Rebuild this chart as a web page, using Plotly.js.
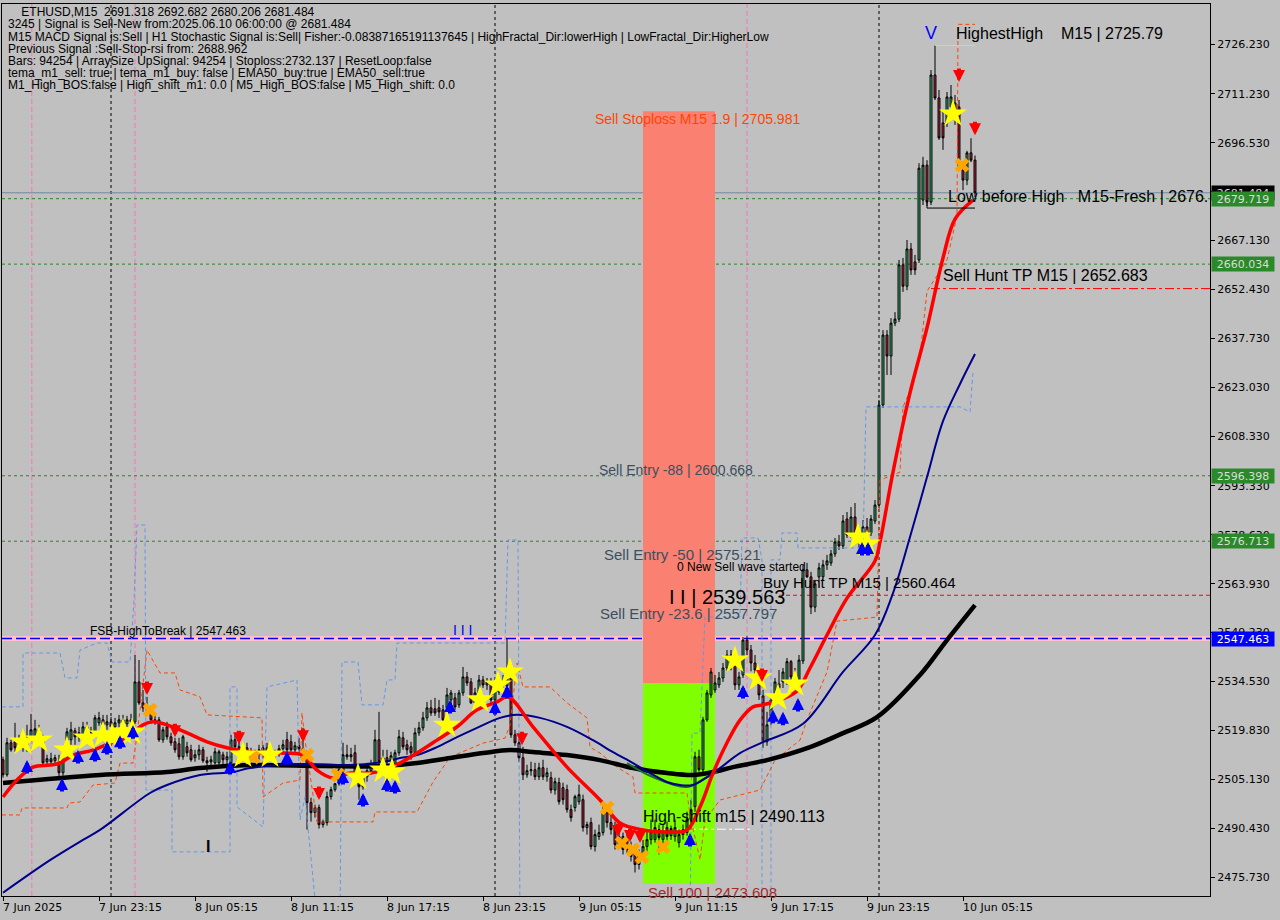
<!DOCTYPE html>
<html><head><meta charset="utf-8">
<script src="https://cdn.plot.ly/plotly-3.0.1.min.js"></script>
<style>html,body{margin:0;padding:0;background:#C0C0C0;}#chart{width:1280px;height:920px;}</style>
</head><body><div id="chart"></div>
<script>
// ---------- candles (M15, bar 0 = 7 Jun 17:15) ----------
const openP = [2511.0,2506.5,2516.1,2516.4,2515.5,2517.0,2514.6,2517.0,2517.9,2520.0,
2517.0,2510.4,2511.3,2510.7,2510.4,2507.1,2513.1,2517.0,2519.7,2517.9,
2517.0,2520.9,2517.6,2519.1,2522.1,2523.0,2521.5,2522.4,2520.9,2522.1,
2523.0,2521.8,2523.0,2522.4,2534.4,2528.1,2526.6,2526.0,2523.0,2523.0,
2517.0,2520.9,2517.9,2516.4,2515.8,2511.9,2514.9,2514.0,2511.6,2512.5,
2514.0,2510.7,2510.4,2510.1,2510.1,2512.5,2511.0,2510.1,2517.0,2514.9,
2513.4,2514.6,2513.4,2511.6,2512.8,2512.5,2514.6,2513.1,2512.2,2513.4,
2514.3,2517.0,2516.4,2514.0,2515.2,2514.3,2511.6,2498.1,2495.1,2496.6,
2491.5,2492.1,2499.9,2502.0,2503.8,2507.4,2512.5,2511.9,2513.1,2507.1,
2502.9,2505.9,2507.7,2509.5,2517.0,2510.4,2511.6,2510.4,2508.9,2513.1,
2517.6,2515.5,2514.9,2513.1,2519.1,2520.6,2523.6,2526.6,2526.3,2526.6,
2526.0,2526.6,2529.0,2529.6,2527.5,2531.1,2535.9,2534.4,2528.1,2531.1,
2535.0,2533.5,2534.1,2529.0,2531.4,2534.4,2533.2,2535.6,2518.5,2516.1,
2511.6,2506.5,2507.7,2508.0,2505.9,2508.6,2505.9,2505.6,2501.9,2504.1,
2502.6,2502.0,2496.0,2496.6,2498.4,2499.0,2490.6,2492.1,2484.9,2487.9,
2489.1,2495.1,2492.1,2490.9,2485.5,2487.9,2487.6,2484.9,2484.0,2479.5,
2481.9,2484.9,2487.0,2487.0,2490.0,2487.0,2490.6,2488.2,2487.9,2486.1,
2488.5,2489.1,2493.0,2496.9,2511.9,2508.0,2523.0,2530.5,2532.0,2533.5,
2535.6,2538.6,2542.5,2540.1,2533.5,2536.5,2547.0,2544.0,2540.1,2537.1,
2530.2,2516.4,2524.2,2529.0,2533.8,2534.4,2534.4,2540.5,2535.9,2534.4,
2540.7,2568.1,2566.0,2556.9,2566.0,2566.0,2569.6,2570.2,2572.9,2576.5,
2575.3,2583.4,2578.6,2584.0,2578.6,2576.5,2581.0,2579.2,2582.8,2587.6,
2617.7,2638.7,2632.4,2642.3,2643.5,2659.8,2653.4,2664.6,2660.7,2661.3,
2679.3,2689.8,2678.7,2716.9,2710.0,2702.5,2702.5,2707.3,2708.5,2707.3,
2688.3,2685.3,2693.5,2691.318];
const highP = [2511.9,2517.6,2517.0,2522.1,2518.5,2520.0,2521.5,2524.8,2523.0,2521.5,
2518.5,2512.5,2513.1,2512.5,2512.5,2514.0,2520.6,2522.4,2520.6,2520.9,
2522.4,2522.4,2520.9,2524.5,2525.4,2524.5,2524.5,2523.9,2523.6,2524.5,
2524.5,2524.2,2524.8,2542.5,2541.0,2532.0,2529.9,2527.2,2524.2,2523.9,
2520.9,2522.4,2519.1,2517.6,2517.6,2518.5,2516.4,2515.5,2514.0,2515.5,
2514.9,2511.9,2512.2,2514.6,2514.0,2513.4,2513.4,2518.5,2518.8,2517.0,
2516.1,2516.1,2514.6,2514.0,2515.5,2515.5,2516.1,2514.6,2514.0,2515.5,
2517.0,2519.4,2518.5,2516.4,2517.6,2520.6,2513.4,2499.6,2497.5,2497.5,
2493.0,2501.4,2502.9,2504.0,2509.5,2516.1,2515.5,2514.6,2515.5,2508.0,
2506.8,2508.6,2511.0,2520.0,2525.4,2514.0,2514.0,2513.4,2514.0,2520.0,
2519.4,2517.0,2516.4,2520.6,2522.4,2525.4,2528.4,2529.0,2529.6,2529.0,
2527.5,2532.6,2532.0,2531.1,2532.0,2538.9,2537.4,2535.6,2532.6,2536.5,
2536.2,2535.6,2535.6,2533.5,2535.6,2536.5,2547.6,2536.8,2520.0,2517.3,
2514.9,2509.5,2510.4,2510.1,2510.1,2511.0,2508.6,2507.4,2505.6,2505.6,
2504.1,2503.5,2497.5,2500.5,2503.5,2500.5,2492.4,2493.6,2490.0,2491.5,
2497.5,2496.6,2494.5,2492.4,2489.4,2489.1,2489.4,2486.4,2485.5,2484.0,
2486.9,2490.0,2493.0,2493.0,2491.5,2491.5,2492.4,2491.2,2493.0,2490.0,
2491.5,2495.4,2499.0,2513.4,2514.0,2523.9,2532.0,2538.6,2536.5,2537.4,
2540.1,2544.0,2544.0,2541.6,2537.4,2547.9,2548.2,2545.5,2542.5,2538.6,
2532.0,2525.4,2530.5,2535.6,2538.0,2538.6,2541.6,2541.0,2538.6,2542.5,
2569.6,2570.2,2567.5,2565.1,2570.2,2571.1,2572.6,2574.1,2577.7,2578.6,
2584.6,2585.5,2587.0,2588.2,2580.7,2583.1,2583.7,2584.6,2589.1,2619.2,
2640.2,2640.2,2643.8,2645.6,2661.3,2661.9,2667.3,2666.4,2662.8,2690.4,
2692.3,2691.3,2718.4,2725.79,2712.4,2706.4,2711.8,2713.9,2710.9,2709.4,
2689.8,2694.1,2697.9,2692.682];
const lowP = [2505.6,2505.9,2513.4,2513.4,2514.0,2513.4,2513.4,2516.4,2517.0,2515.5,
2509.5,2509.5,2509.5,2509.2,2505.9,2506.2,2512.5,2515.5,2515.5,2516.4,
2516.4,2516.4,2516.4,2518.2,2521.2,2520.0,2520.0,2519.4,2519.7,2520.6,
2520.6,2520.9,2521.2,2521.8,2527.5,2525.4,2525.1,2521.8,2521.5,2516.4,
2516.1,2517.0,2515.2,2513.1,2511.0,2511.0,2511.9,2510.4,2510.4,2511.0,
2510.1,2507.4,2509.2,2509.5,2509.5,2509.2,2508.0,2509.5,2514.0,2511.9,
2511.9,2511.9,2510.1,2510.4,2511.0,2511.6,2511.9,2511.0,2511.0,2511.9,
2512.5,2513.1,2513.4,2512.5,2513.1,2511.9,2490.0,2492.4,2493.6,2490.3,
2490.6,2491.2,2499.0,2501.4,2503.2,2506.5,2511.0,2510.4,2506.5,2499.0,
2502.0,2504.4,2506.5,2508.6,2509.5,2507.9,2508.9,2508.6,2507.4,2512.2,
2514.0,2512.5,2511.0,2512.2,2518.2,2519.7,2522.7,2524.2,2524.2,2523.6,
2522.4,2525.4,2528.1,2526.0,2526.6,2530.2,2533.2,2527.8,2527.2,2530.2,
2532.6,2532.0,2528.1,2527.5,2530.5,2532.0,2532.0,2517.6,2515.2,2510.4,
2504.9,2505.6,2506.2,2504.9,2504.9,2504.9,2504.4,2500.9,2500.5,2497.5,
2497.5,2495.1,2492.4,2495.4,2497.5,2489.4,2488.5,2484.0,2483.4,2486.9,
2488.2,2490.6,2488.5,2484.0,2484.6,2482.5,2482.8,2480.4,2477.1,2478.0,
2481.0,2483.4,2485.5,2486.1,2482.5,2485.5,2486.4,2486.9,2486.4,2484.6,
2487.0,2488.2,2490.0,2495.4,2507.4,2507.1,2522.4,2529.6,2531.1,2532.6,
2534.4,2537.7,2537.9,2532.0,2532.0,2535.6,2542.5,2537.6,2536.5,2529.0,
2514.6,2515.2,2521.5,2527.5,2531.4,2532.6,2533.5,2535.0,2532.0,2532.6,
2539.8,2565.7,2554.8,2555.4,2564.5,2565.1,2568.1,2569.3,2572.0,2574.1,
2574.4,2577.7,2577.7,2577.7,2574.7,2575.3,2575.6,2578.3,2581.9,2586.7,
2616.8,2626.7,2626.7,2641.4,2642.6,2651.7,2652.2,2656.8,2656.8,2660.4,
2677.8,2677.5,2677.8,2709.4,2697.4,2694.4,2701.3,2706.4,2701.9,2688.3,
2682.3,2683.8,2690.7,2680.206];
const closeP = [2506.5,2516.1,2514.0,2514.6,2517.0,2515.5,2517.6,2520.0,2520.3,2518.5,
2510.1,2511.3,2510.4,2511.6,2507.1,2513.1,2519.4,2520.0,2517.9,2519.1,
2520.9,2517.6,2519.4,2523.6,2523.6,2521.5,2522.4,2520.9,2522.1,2523.0,
2521.8,2523.0,2522.4,2534.4,2528.1,2526.6,2526.0,2523.0,2522.4,2517.0,
2520.0,2517.9,2516.1,2514.0,2511.9,2517.9,2513.1,2511.0,2512.5,2514.0,
2510.7,2510.1,2511.0,2513.4,2513.4,2511.0,2511.9,2517.0,2514.9,2513.4,
2514.6,2513.1,2511.6,2512.8,2514.0,2514.6,2513.1,2512.2,2513.4,2514.3,
2515.5,2514.0,2514.0,2515.2,2514.3,2513.4,2498.1,2495.1,2496.6,2491.5,
2492.4,2499.9,2502.0,2503.8,2508.0,2512.5,2511.9,2512.5,2507.1,2502.9,
2505.9,2507.7,2509.5,2517.0,2510.4,2511.6,2510.4,2512.2,2513.1,2517.9,
2514.9,2514.0,2513.1,2519.1,2520.6,2523.6,2526.6,2525.1,2525.1,2525.4,
2523.0,2530.5,2531.1,2526.9,2531.1,2535.9,2534.1,2528.1,2531.1,2535.0,
2533.5,2534.4,2529.0,2532.0,2534.4,2533.2,2535.6,2518.5,2516.1,2511.6,
2506.5,2507.7,2508.0,2505.9,2508.6,2505.9,2507.1,2501.9,2504.4,2498.4,
2499.0,2496.0,2493.6,2499.9,2500.5,2490.6,2491.5,2484.9,2488.5,2489.1,
2495.1,2492.1,2490.0,2485.5,2487.9,2484.0,2484.0,2481.9,2479.5,2483.1,
2484.9,2487.0,2489.4,2490.6,2487.6,2489.4,2487.9,2490.3,2490.6,2488.5,
2490.0,2493.0,2496.0,2511.9,2508.0,2523.0,2531.1,2537.4,2534.1,2535.6,
2538.6,2542.5,2538.9,2533.5,2535.9,2547.0,2544.0,2540.1,2538.0,2530.5,
2516.4,2521.5,2529.0,2534.4,2532.6,2537.4,2540.5,2535.9,2534.4,2541.0,
2568.1,2566.0,2556.9,2563.9,2568.7,2569.6,2570.8,2572.9,2576.5,2575.3,
2582.8,2578.6,2584.0,2578.6,2576.5,2581.0,2579.2,2583.4,2587.6,2617.7,
2638.7,2632.4,2642.3,2643.5,2659.8,2653.4,2664.6,2658.3,2658.3,2688.9,
2689.8,2678.7,2716.9,2710.0,2698.0,2698.0,2710.3,2710.3,2704.9,2688.9,
2685.3,2693.5,2691.3,2681.484];

// ---------- moving averages (bar index, price) ----------
const redX = [0,3.5,7.5,11.75,14.25,17.5,22.5,26.75,31,35,37.5,41,46,51,56,61.75,70,75,78.5,82.5,86.75,91.75,95,99.25,103.5,108.5,113.5,118.5,123.5,126.25,132.5,141,149.25,154.25,160,166,171,174.25,177.5,181,184.25,187.5,190,194.25,198.5,201.75,206,211,218,219.25,222.5,226.75,231,235,238,242.5];
const redY = [2499.8,2504.9,2508.8,2509.4,2510.0,2512.4,2513.9,2516.0,2517.8,2521.5,2522.4,2521.5,2519.1,2516.4,2514.6,2513.3,2513.0,2512.4,2507.9,2505.5,2507.0,2507.0,2507.9,2510.0,2513.0,2516.9,2520.9,2526.0,2528.4,2529.9,2520.9,2508.8,2498.9,2492.0,2489.9,2489.3,2489.9,2496.8,2507.0,2516.1,2522.9,2526.9,2527.5,2529.0,2531.7,2538.6,2548.5,2559.6,2570.8,2576.5,2597.5,2621.3,2640.9,2661.9,2673.6,2679.3];
const navyX = [0,11.75,20,24.25,36.75,41,49.25,57.5,61.75,74.25,86.75,95,99.25,103.5,108.5,113.5,118.5,124.25,128.5,134.25,141,147.5,152.5,157.5,161.75,166,169.25,172.5,176,179.25,184.25,190,200,210,218,222.5,226.75,231,235,239.25,243];
const navyY = [2471.0,2480.8,2486.9,2489.9,2501.0,2503.4,2506.4,2507.3,2508.5,2509.7,2509.4,2510.3,2511.5,2512.4,2514.8,2517.8,2520.6,2523.6,2524.5,2523.6,2520.9,2516.9,2513.3,2510.0,2507.0,2504.3,2503.4,2503.4,2505.8,2508.5,2513.0,2516.3,2521.8,2537.4,2548.5,2561.1,2578.0,2596.0,2612.8,2624.0,2633.0];
const blackX = [0,24.25,41,49.25,61.75,80,95,103.5,111.75,120,126.75,132.5,141,149.25,157.5,166,172.5,177.5,182.5,191,201.75,210,218.5,229.25,236,243];
const blackY = [2504.0,2506.4,2507.3,2508.5,2509.4,2509.1,2509.1,2510.0,2511.5,2513.0,2513.9,2513.3,2512.4,2510.9,2508.5,2507.0,2506.4,2507.3,2508.8,2510.9,2514.8,2519.0,2523.8,2536.5,2547.0,2557.5];
const greenX = [156,162.5,171,176,178.5];
const greenY = [2510.0,2505.8,2502.8,2505.8,2507.3];

// ---------- dashed channel lines ----------
const blueBandX = [-0.25,5,5,14.25,15.5,18.5,19.25,23.5,26,27.25,31.75,32.75,33.5,35.5,35.75,42.25,42.25,56.75,56.75,58.5,58.5,65,66,73.5,74.25,75.5,78.75,84.25,84.75,88.75,89.75,95,96,98,98.5,125.5,126.25,128.75,129.25,171.75,172.25,174.25,175.5,184.25,184.75,188.75,189.75,189.75,192,192,194.25,194.75,198.5,198.75,215,215.75,239.25,241.75,242.5,243];
const blueBandY = [2526.9,2526.9,2543.1,2543.1,2535.6,2535.6,2544.0,2546.1,2546.1,2540.4,2540.4,2559.0,2581.6,2581.6,2501.9,2501.9,2483.3,2483.3,2532.9,2532.9,2496.8,2490.8,2532.9,2535.0,2492.9,2499.8,2460,2460,2540.4,2540.4,2527.5,2527.5,2535.0,2535.0,2546.1,2546.1,2577.1,2577.1,2460,2460,2519.0,2519.0,2553.9,2553.9,2577.7,2577.7,2571.1,2460,2460,2571.1,2571.1,2579.2,2579.2,2574.7,2574.7,2617.1,2617.1,2615.6,2627.6,2627.6];
const orangeBandX = [-0.25,4.25,4.75,16,16.5,19.25,22.5,28,29.25,32.5,33.5,36,39.25,43,44.25,49.25,51,64.75,65,70,74.25,74.75,75.5,78.5,92.5,93,103.5,107.5,111.75,120,125.5,126.75,128.5,130,136.75,141,146,146.75,149.25,153.5,157.5,158,171,171.75,174.25,175.5,179.25,189.25,193,199.25,201,206,208.5,218.5,219.25,224.25,225,227.5,229.25,231,236,238.5,238.75,243];
const orangeBandY = [2494.4,2494.4,2496.5,2496.5,2498.0,2498.3,2503.4,2504.0,2510.0,2510.0,2518.4,2544.0,2537.1,2537.1,2532.0,2529.9,2524.5,2523.6,2499.8,2504.0,2504.9,2525.1,2516.9,2492.3,2492.3,2495.3,2495.3,2504.3,2511.8,2516.0,2517.5,2521.4,2540.1,2532.9,2532.9,2528.1,2523.6,2514.8,2513.0,2508.8,2505.8,2501.0,2501.0,2494.4,2480.9,2492.9,2498.9,2501.9,2510.9,2516.9,2523.0,2537.4,2552.7,2553.9,2595.1,2597.5,2617.1,2624.0,2632.4,2651.9,2661.3,2674.5,2732.137,2732.137];

// ---------- signal markers ----------
const starX = [5,9,16,21,25,27.25,30,32.25,60,66.75,88.75,95,97.25,111,119.25,123.75,126.75,183,188.75,193.75,198,213.75,216,237.5];
const starY = [2516.3,2516.9,2513.9,2517.5,2518.4,2517.8,2519.3,2519.3,2512.4,2512.4,2505.8,2507.9,2507.3,2521.4,2529.0,2533.5,2537.4,2541.0,2535.6,2529.6,2533.8,2578.0,2575.9,2705.2];
const upX = [6,14.75,18.75,23,26,29.25,32.5,56.75,71,85,90,96,98,111.75,123,126,171.75,185,192.5,195,198.75,214.75,216.25];
const upY = [2508.8,2503.4,2511.8,2512.4,2514.5,2516.3,2519.3,2508.5,2511.5,2505.5,2498.9,2503.4,2502.8,2526.9,2526.6,2531.4,2486.9,2531.4,2523.9,2523.3,2527.5,2574.4,2574.4];
const downX = [36,43,59,75,79,129.75,153.75,156.75,159.25,189.75,239,243];
const downY = [2532.6,2519.9,2517.8,2518.4,2501.0,2517.5,2489.9,2488.4,2488.1,2536.5,2716.9,2700.9];
const crossX = [36.75,60,62.5,76,83.75,151,154.75,157.5,159.75,165,239.75];
const crossY = [2525.9,2511.8,2511.8,2512.4,2506.4,2496.5,2485.9,2483.9,2481.8,2484.8,2689.8];

// ---------- levels ----------
const currentPrice = 2681.484;
const greenLevels = [2679.719, 2660.034, 2596.398, 2576.713];
const fsbLevel = 2547.463;
const sellHuntTP = 2652.683, buyHuntTP = 2560.464, highShift = 2490.113;
const highestHigh = 2725.79, lowBeforeHigh = 2676.9;
const stopLoss = 2705.981, sell100 = 2473.608, zoneSplit = 2534.08;
const dayBreaks = [27, 123, 219];
const pinkMarks = [7.2, 33, 186];

// ---------- axis labels ----------
const yTickVals = [2475.73,2490.43,2505.13,2519.83,2534.53,2549.23,2563.93,2578.63,2593.33,2608.33,2623.03,2637.73,2652.43,2667.13,2681.83,2696.53,2711.23,2726.23];
const xTickVals = [0,24,48,72,96,120,144,168,192,216,240];
const xTickText = ['7 Jun 2025','7 Jun 23:15','8 Jun 05:15','8 Jun 11:15','8 Jun 17:15','8 Jun 23:15','9 Jun 05:15','9 Jun 11:15','9 Jun 17:15','9 Jun 23:15','10 Jun 05:15'];
const infoLines = [
 '\u00A0\u00A0\u00A0\u00A0ETHUSD,M15\u00A0\u00A02691.318 2692.682 2680.206 2681.484',
 '3245 | Signal is Sell-New from:2025.06.10 06:00:00 @ 2681.484',
 'M15 MACD Signal is:Sell | H1 Stochastic Signal is:Sell| Fisher:-0.08387165191137645 | HighFractal_Dir:lowerHigh | LowFractal_Dir:HigherLow',
 'Previous Signal :Sell-Stop-rsi from: 2688.962',
 'Bars: 94254 | ArraySize UpSignal: 94254 | Stoploss:2732.137 | ResetLoop:false',
 'tema_m1_sell: true | tema_m1_buy: false | EMA50_buy:true | EMA50_sell:true',
 'M1_High_BOS:false | High_shift_m1: 0.0 | M5_High_BOS:false | M5_High_shift: 0.0'
];

const idx = openP.map((_, i) => i);
const SANS = 'Liberation Sans, Arial, sans-serif';
const TAH = 'DejaVu Sans, Verdana, sans-serif';
const XMAX = 301.75;

const traces = [
 {type:'scatter', mode:'lines', x:blueBandX, y:blueBandY, line:{color:'#6495ED', width:1, dash:'4px,3px'}, hoverinfo:'skip'},
 {type:'scatter', mode:'lines', x:orangeBandX, y:orangeBandY, line:{color:'#FF4500', width:1, dash:'4px,3px'}, hoverinfo:'skip'},
 {type:'candlestick', x:idx, open:openP, high:highP, low:lowP, close:closeP,
  increasing:{line:{color:'#000000', width:1}, fillcolor:'#3CB371'},
  decreasing:{line:{color:'#000000', width:1}, fillcolor:'#B4283C'},
  whiskerwidth:0, hoverinfo:'skip'},
 {type:'scatter', mode:'lines', x:blackX, y:blackY, line:{color:'#000000', width:4.5, shape:'spline'}, hoverinfo:'skip'},
 {type:'scatter', mode:'lines', x:greenX, y:greenY, line:{color:'#1E6B2E', width:2, shape:'spline'}, hoverinfo:'skip'},
 {type:'scatter', mode:'lines', x:navyX, y:navyY, line:{color:'#00008B', width:2, shape:'spline'}, hoverinfo:'skip'},
 {type:'scatter', mode:'lines', x:redX, y:redY, line:{color:'#FF0000', width:3.5, shape:'spline'}, hoverinfo:'skip'},
 {type:'scatter', mode:'markers', x:crossX, y:crossY, marker:{symbol:'x', size:13, color:'#FFA500', line:{width:0}}, hoverinfo:'skip'},
 {type:'scatter', mode:'markers', x:starX, y:starY, marker:{symbol:'star', size:21, color:'#FFFF00', line:{width:0}}, hoverinfo:'skip'}
];

const shapes = [];
shapes.push({type:'rect', layer:'below', xref:'x', yref:'y', x0:160, x1:178, y0:zoneSplit, y1:stopLoss, fillcolor:'#FA8072', line:{width:0}});
shapes.push({type:'rect', layer:'below', xref:'x', yref:'y', x0:160, x1:178, y0:sell100, y1:zoneSplit, fillcolor:'#7FFF00', line:{width:0}});
dayBreaks.forEach(v => shapes.push({type:'line', layer:'below', xref:'x', yref:'paper', x0:v, x1:v, y0:0, y1:1, line:{color:'#000000', width:1, dash:'3px,3px'}}));
pinkMarks.forEach(v => shapes.push({type:'line', layer:'below', xref:'x', yref:'paper', x0:v, x1:v, y0:0, y1:1, line:{color:'#FF6FB5', width:1, dash:'5px,3px'}}));
shapes.push({type:'line', layer:'below', xref:'paper', yref:'y', x0:0, x1:1, y0:currentPrice, y1:currentPrice, line:{color:'#7088A0', width:1}});
greenLevels.forEach(v => shapes.push({type:'line', layer:'below', xref:'paper', yref:'y', x0:0, x1:1, y0:v, y1:v, line:{color:'#228B22', width:1, dash:'3px,3px'}}));
shapes.push({type:'line', layer:'below', xref:'paper', yref:'y', x0:0, x1:1, y0:fsbLevel, y1:fsbLevel, line:{color:'#FFC0CB', width:5}});
shapes.push({type:'line', layer:'below', xref:'paper', yref:'y', x0:0, x1:1, y0:fsbLevel, y1:fsbLevel, line:{color:'#0000FF', width:1.5, dash:'10px,4px'}});
shapes.push({type:'line', layer:'below', xref:'x', yref:'y', x0:232, x1:XMAX, y0:sellHuntTP, y1:sellHuntTP, line:{color:'#FF0000', width:1, dash:'dashdot'}});
shapes.push({type:'line', layer:'below', xref:'x', yref:'y', x0:194, x1:XMAX, y0:buyHuntTP, y1:buyHuntTP, line:{color:'#FF0000', width:1, dash:'4px,3px'}});
shapes.push({type:'line', layer:'below', xref:'x', yref:'y', x0:156, x1:187, y0:highShift, y1:highShift, line:{color:'#FFFFFF', width:1, dash:'dashdot'}});
shapes.push({type:'line', layer:'above', xref:'x', yref:'y', x0:231, x1:231, y0:2679.3, y1:lowBeforeHigh, line:{color:'#000000', width:1}});
shapes.push({type:'line', layer:'above', xref:'x', yref:'y', x0:231, x1:243, y0:lowBeforeHigh, y1:lowBeforeHigh, line:{color:'#000000', width:1}});
shapes.push({type:'line', layer:'above', xref:'x', yref:'y', x0:233, x1:243, y0:highestHigh, y1:highestHigh, line:{color:'#ADFF2F', width:1}});

const ann = [];
// signal arrows (thick stem + head), centred on the read position
upX.forEach((x, k) => ann.push({xref:'x', yref:'y', x:x, y:upY[k], text:'', showarrow:true, arrowhead:2, arrowsize:0.6, arrowwidth:4, arrowcolor:'#0000FF', ax:0, ay:15, yshift:7, standoff:0, startstandoff:0}));
downX.forEach((x, k) => ann.push({xref:'x', yref:'y', x:x, y:downY[k], text:'', showarrow:true, arrowhead:2, arrowsize:0.6, arrowwidth:4, arrowcolor:'#FF0000', ax:0, ay:-15, yshift:-7, standoff:0, startstandoff:0}));

function txt(x, y, t, size, color, fam){ ann.push({xref:'x', yref:'y', x:x, y:y, xanchor:'left', yanchor:'middle', text:t, showarrow:false, borderpad:0, font:{family:fam||SANS, size:size, color:color}}); }
txt(147.75, 2703.7, 'Sell Stoploss M15 1.9 | 2705.981', 14, '#FF4500');
txt(148.75, 2598.1, 'Sell Entry -88 | 2600.668', 14, '#3B4F5F');
txt(150, 2572.6, 'Sell Entry -50 | 2575.21', 15, '#3B4F5F');
txt(168.25, 2569.0, '0 New Sell wave started', 12, '#000000');
txt(166.25, 2559.9, 'I I | 2539.563', 20, '#000000');
txt(149, 2555.1, 'Sell Entry -23.6 | 2557.797', 15, '#3B4F5F');
txt(189.75, 2564.2, 'Buy Hunt TP M15 | 2560.464', 15, '#000000');
txt(21.5, 2549.7, 'FSB-HighToBreak | 2547.463', 12, '#000000');
txt(112.25, 2550.0, 'I I I', 14, '#0000FF');
txt(238, 2729.5, 'HighestHigh\u00A0\u00A0\u00A0\u00A0M15 | 2725.79', 16, '#000000');
txt(230.25, 2729.5, 'V', 18, '#0000FF');
txt(236, 2680.5, 'Low before High\u00A0\u00A0\u00A0M15-Fresh | 2676.', 16, '#000000');
txt(234.75, 2656.5, 'Sell Hunt TP M15 | 2652.683', 16, '#000000');
txt(159.75, 2493.8, 'High-shift m15 | 2490.113', 16, '#000000');
txt(161, 2471.2, 'Sell 100 | 2473.608', 15, '#A52A2A');
txt(50.5, 2484.8, '<b>I</b>', 16, '#000000');

const infoY = [12,24,37,49,61,73,85];
infoLines.forEach((t, k) => ann.push({xref:'paper', yref:'paper', x:(7-2)/1208, y:(896-infoY[k])/892, xanchor:'left', yanchor:'middle', text:t, showarrow:false, borderpad:0, font:{family:SANS, size:12, color:'#000000'}}));

xTickVals.forEach((v, k) => ann.push({xref:'x', yref:'paper', x:v, y:(896-907)/892, xanchor:'left', yanchor:'middle', xshift:-1, text:xTickText[k], showarrow:false, borderpad:0, font:{family:TAH, size:11, color:'#000000'}}));

function tag(v, bg, fg){ ann.push({xref:'paper', yref:'y', x:1, y:v, xanchor:'left', yanchor:'middle', xshift:1, text:v.toFixed(3), showarrow:false, bgcolor:bg, borderpad:1, width:60, height:12, font:{family:TAH, size:11, color:fg}}); }
tag(currentPrice, '#000000', '#D8D8D8');
greenLevels.forEach(v => tag(v, '#2A8A2A', '#DCDCDC'));
tag(fsbLevel, '#0000FF', '#FFFFFF');

const layout = {
 width:1280, height:920,
 margin:{l:2, r:70, t:4, b:24},
 paper_bgcolor:'#C0C0C0', plot_bgcolor:'#C0C0C0',
 showlegend:false,
 xaxis:{range:[-0.25, XMAX], showgrid:false, zeroline:false, showline:true, linecolor:'#000000', linewidth:1, mirror:true,
        tickmode:'array', tickvals:xTickVals, ticks:'outside', ticklen:4, tickcolor:'#000000', showticklabels:false,
        rangeslider:{visible:false}, fixedrange:true},
 yaxis:{range:[2470.03, 2738.26], side:'right', showgrid:false, zeroline:false, showline:true, linecolor:'#000000', linewidth:1, mirror:true,
        tickmode:'array', tickvals:yTickVals, ticktext:yTickVals.map(v => v.toFixed(3)), ticks:'outside', ticklen:4, tickcolor:'#000000',
        tickfont:{family:TAH, size:11, color:'#000000'}, fixedrange:true},
 shapes:shapes,
 annotations:ann
};

Plotly.newPlot('chart', traces, layout, {displayModeBar:false, staticPlot:true});
</script></body></html>
